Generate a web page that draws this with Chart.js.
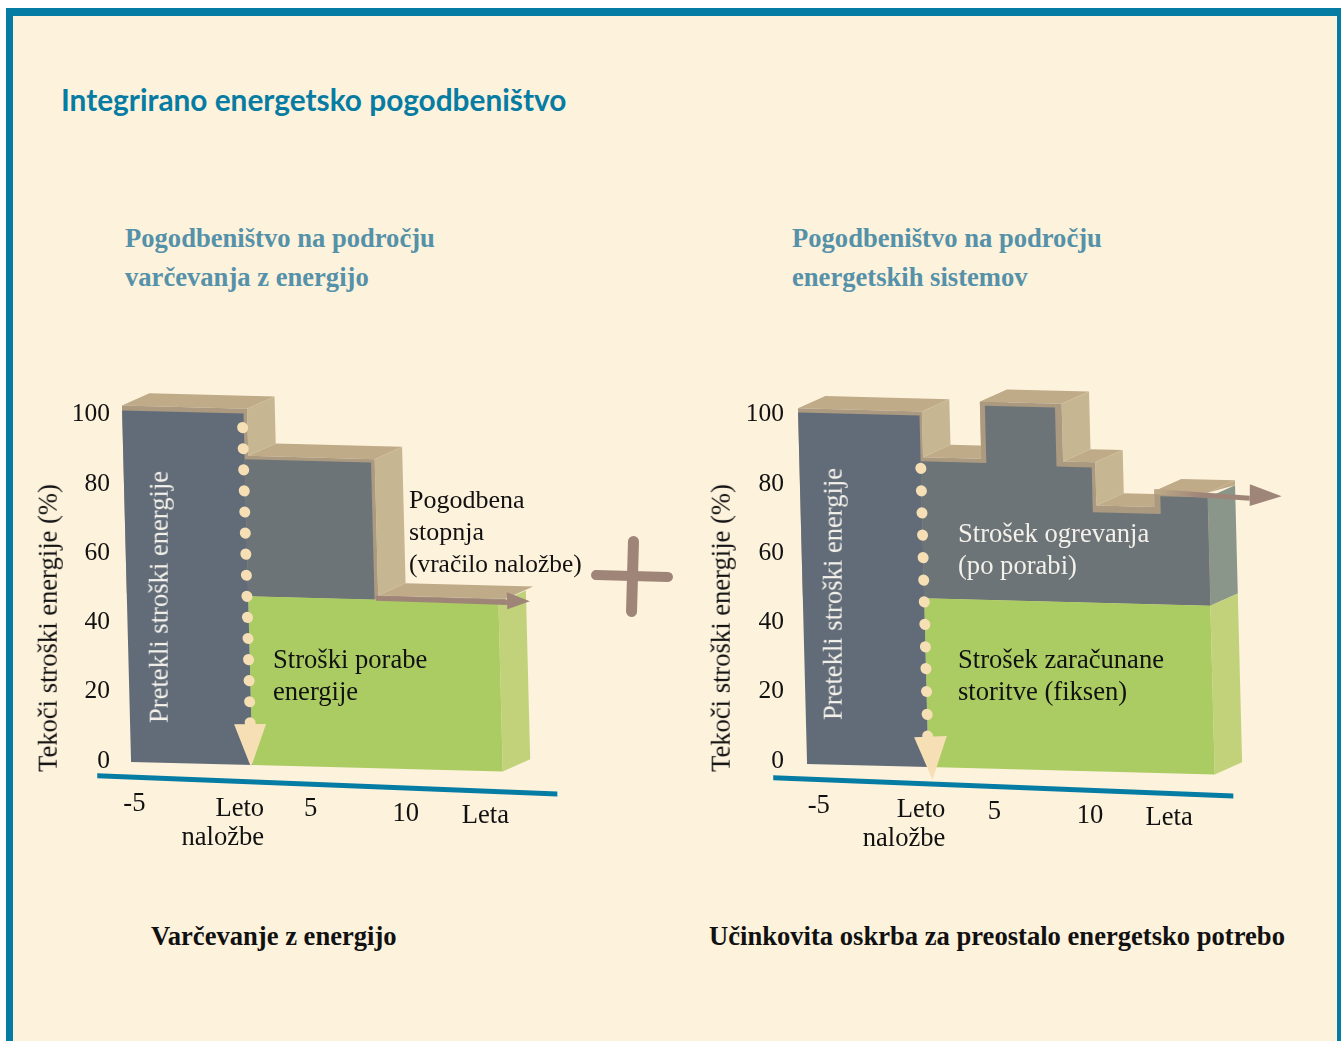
<!DOCTYPE html>
<html lang="sl">
<head>
<meta charset="utf-8">
<title>Integrirano energetsko pogodbeništvo</title>
<script src="https://cdn.jsdelivr.net/npm/chart.js@4/dist/chart.umd.js"></script>
<style>
    html, body { margin: 0; padding: 0; background: #fff; }
    body { width: 1341px; height: 1041px; position: relative; overflow: hidden; }
    .frame {
        position: absolute; left: 6px; top: 8px; right: 0; bottom: -20px;
        background: #fdf2dc; border: solid #047ca3; border-width: 8px 4px 0 7px;
    }
    canvas { position: absolute; top: 373px; }
    .txt {
        position: absolute; white-space: nowrap; transform: translateY(-50%);
        font-family: "Liberation Serif", serif; font-size: 26.6px; line-height: 1; color: #111;
    }
    .title { font-family: Lato, sans-serif; font-weight: 700; font-size: 29.8px; color: #067ca3; }
    .sub { font-weight: 700; color: #5591a8; }
    .cap { font-weight: 700; }
    .light { color: #f3f1ea; }
    .rot { transform: translate(-50%, -50%) rotate(-90deg); }
    .plus { position: absolute; background: #9e8578; border-radius: 6px; }
</style>
</head>
<body>
<div class="frame"></div>
<canvas id="panelA" width="602" height="492" style="left:20px"></canvas>
<canvas id="panelB" width="602" height="492" style="left:696px"></canvas>

<div class="txt title" style="left:61px;top:100px">Integrirano energetsko pogodbeništvo</div>
<div class="txt sub" style="left:125px;top:238px">Pogodbeništvo na področju</div>
<div class="txt sub" style="left:125px;top:277px">varčevanja z energijo</div>
<div class="txt sub" style="left:792px;top:238px">Pogodbeništvo na področju</div>
<div class="txt sub" style="left:792px;top:277px">energetskih sistemov</div>

<div class="txt rot" style="left:48px;top:628px">Tekoči stroški energije (%)</div>
<div class="txt rot" style="left:721px;top:628px">Tekoči stroški energije (%)</div>
<div class="txt rot light" style="left:159px;top:597px">Pretekli stroški energije</div>
<div class="txt rot light" style="left:833px;top:594px">Pretekli stroški energije</div>

<div class="txt" style="left:409px;top:500px;font-size:26px">Pogodbena</div>
<div class="txt" style="left:409px;top:532px;font-size:26px">stopnja</div>
<div class="txt" style="left:409px;top:564px;font-size:25.4px">(vračilo naložbe)</div>
<div class="txt" style="left:273px;top:659px">Stroški porabe</div>
<div class="txt" style="left:273px;top:691px">energije</div>
<div class="txt light" style="left:958px;top:533px">Strošek ogrevanja</div>
<div class="txt light" style="left:958px;top:565px">(po porabi)</div>
<div class="txt" style="left:958px;top:659px">Strošek zaračunane</div>
<div class="txt" style="left:958px;top:691px">storitve (fiksen)</div>

<div class="txt cap" style="left:151px;top:936px">Varčevanje z energijo</div>
<div class="txt cap" style="left:709px;top:936px">Učinkovita oskrba za preostalo energetsko potrebo</div>

<div class="plus" style="left:591px;top:571px;width:82px;height:10px;transform:rotate(1.4deg)"></div>
<div class="plus" style="left:627px;top:536px;width:11px;height:81px;transform:rotate(1.6deg)"></div>

<script>
// ============================================================================
// CHART DATA (x = years around the investment year, y = running energy cost %)
// ============================================================================

const yTicks = [0, 20, 40, 60, 80, 100];
const xTickLabels = ['-5', ['Leto', 'naložbe'], '5', '10', 'Leta'];

const axisX = [-6.18, 12.38];
const axisY = [-4.2, -6];
const depthX = 1.12;
const depthY = 3.7;

// Energy saving contract (left)
const pastXA = [-4.8, 0.1, 0.1, -4.8];
const pastYA = [100, 100, 0, 0];
const costXA = [0.1, 5.2, 5.2, 0.1];
const costYA = [87, 87, 48, 48];
const baseXA = [0.1, 10.2, 10.2, 0.1];
const baseYA = [48, 48, 0, 0];
const rimXA = [-4.8, 0.25, 0.25, 5.35, 5.35, 10.5];
const rimYA = [101.4, 101.4, 88, 88, 49.2, 49.2];
const dotXA = 0.05;
const dotYA = [96, 90, 84, 78, 72, 66, 60, 54, 48, 42, 36, 30, 24, 18, 12];
const headXA = [-0.6, 0.69, 0.04];
const headYA = [11.5, 11.8, -0.6];
const shaftXA = [5.25, 10.57];
const shaftYA = [48.4, 48.2];
const tipXA = [10.55, 11.47, 10.53];
const tipYA = [51.1, 48.7, 46.2];
const xTickAtA = [-4.23, 0.56, 2.7, 6.81, 10.44];
const xTickRowA = [-11.9, -12.4, -12, -12.6, -12.6];

// Energy supply contract (right)
const pastXB = [-4.8, 0.1, 0.1, -4.8];
const pastYB = [100, 100, 0, 0];
const costXB = [0.1, 2.75, 2.75, 5.58, 5.58, 7, 7, 9.74, 9.74, 11.65, 11.65, 0.1];
const costYB = [87, 87, 103.3, 103.3, 86.5, 86.5, 73.8, 73.8, 78.8, 78.8, 48, 48];
const baseXB = [0.1, 11.65, 11.65, 0.1];
const baseYB = [48, 48, 0, 0];
const rimXB = [-4.8, 0.2, 0.2, 2.55, 2.55, 5.85, 5.85, 7.15, 7.15, 9.5, 9.5, 11.66];
const rimYB = [101.2, 101.2, 88.2, 88.2, 104.4, 104.4, 88, 88, 75.7, 75.7, 80.2, 80.2];
const dotXB = 0.1;
const dotYB = [85, 78.6, 72.3, 66, 59.6, 53.2, 47, 40.6, 34.2, 28, 21.5, 15, 8.8];
const headXB = [-0.45, 0.87, 0.25];
const headYB = [8.4, 9, -3.6];
const shaftXB = [9.5, 13.35];
const shaftYB = [80.1, 78.9];
const tipXB = [13.37, 14.64, 13.34];
const tipYB = [82.9, 79.7, 76.7];
const xTickAtB = [-3.89, 0.77, 3.02, 7.14, 10.75];
const xTickRowB = [-11.8, -12.1, -12.1, -12.6, -12.5];

const COLORS = {
    past: '#626c78',
    cost: '#6d7478',
    base: '#abcc62',
    baseSide: '#c2d27a',
    costSide: '#8a9689',
    top: '#bfab88',
    side: '#c7b692',
    rim: '#ab9a80',
    dot: '#f6dfb5',
    arrow: '#9e8578',
    axis: '#047ca3'
};

// ============================================================================
// DATASET HELPERS
// ============================================================================

/**
 * Closed filled shape from x and y lists
 */
function shape(xs, ys, color) {
    const data = xs.map((x, i) => ({ x, y: ys[i] }));
    data.push(data[0]);
    return {
        data,
        fill: 'shape',
        backgroundColor: color,
        borderWidth: 0,
        pointRadius: 0,
        clip: false,
        tension: 0
    };
}

/**
 * Open stroked line
 */
function stroke(xs, ys, color, width) {
    return {
        data: xs.map((x, i) => ({ x, y: ys[i] })),
        fill: false,
        borderColor: color,
        borderWidth: width,
        pointRadius: 0,
        clip: false
    };
}

/**
 * Arrow shaft, fades in from the colour of the block it leaves
 */
function shaftColor(xs, fromColor) {
    return (context) => {
        const { chart } = context;
        if (!chart.chartArea) {
            return COLORS.arrow; // not laid out yet on the first pass
        }
        const gradient = chart.ctx.createLinearGradient(
            chart.scales.x.getPixelForValue(xs[0]), 0,
            chart.scales.x.getPixelForValue(xs[1]), 0
        );
        gradient.addColorStop(0, fromColor);
        gradient.addColorStop(0.5, COLORS.arrow);
        return gradient;
    };
}

/**
 * Depth faces along the outline of the stepped block
 */
function depthFaces(xs, ys) {
    const faces = [];
    for (let i = 0; i < xs.length - 1; i++) {
        const color = ys[i] === ys[i + 1] ? COLORS.top : COLORS.side;
        faces.push(shape(
            [xs[i], xs[i + 1], xs[i + 1] + depthX, xs[i] + depthX],
            [ys[i], ys[i + 1], ys[i + 1] + depthY, ys[i] + depthY],
            color
        ));
    }
    return faces;
}

/**
 * The drawing leans a little, so the marks are sheared around the year 0 point
 */
function leanPlugin(pivotX, pivotY) {
    return {
        id: 'lean',
        beforeDatasetsDraw(chart) {
            const { ctx, scales } = chart;
            ctx.save();
            ctx.translate(pivotX, pivotY);
            ctx.transform(1, 0.026, 0.0259, 1.0144, 0, 0);
            ctx.translate(-scales.x.getPixelForValue(0), -scales.y.getPixelForValue(0));
        },
        afterDatasetsDraw(chart) {
            chart.ctx.restore();
        }
    };
}

/**
 * Year labels follow the slanted axis, so each one gets its own row
 */
function yearLabelsPlugin(pivotY, tickAt, tickRow) {
    return {
        id: 'yearLabels',
        afterDraw(chart) {
            const { ctx, scales } = chart;
            ctx.save();
            ctx.font = '26.6px "Liberation Serif"';
            ctx.fillStyle = '#111';
            ctx.textAlign = 'right';
            ctx.textBaseline = 'middle';
            xTickLabels.forEach((label, i) => {
                const px = scales.x.getPixelForValue(tickAt[i]);
                const py = pivotY - 3.52 * tickRow[i] + 0.645 * tickAt[i];
                [].concat(label).forEach((line, k) => ctx.fillText(line, px, py + k * 29));
            });
            ctx.restore();
        }
    };
}

// ============================================================================
// CHART RENDERING
// ============================================================================

/**
 * Render one contract panel
 */
function renderPanel(canvasId, pivot, marks, extraFaces, labels) {
    const ctx = document.getElementById(canvasId).getContext('2d');
    const rimEnd = marks.rimX[marks.rimX.length - 1];

    const datasets = [
        ...depthFaces(marks.rimX, marks.rimY),
        ...extraFaces,
        shape([...marks.rimX, rimEnd, marks.rimX[0]], [...marks.rimY, 48, 48], COLORS.rim),
        shape(marks.costX, marks.costY, COLORS.cost),
        shape(marks.baseX, marks.baseY, COLORS.base),
        shape(marks.pastX, marks.pastY, COLORS.past),
        stroke(marks.shaftX, marks.shaftY, shaftColor(marks.shaftX, labels.shaftFrom), 5),
        shape(marks.tipX, marks.tipY, COLORS.arrow),
        {
            data: marks.dotY.map(y => ({ x: marks.dotX, y })),
            showLine: false,
            pointRadius: 5.5,
            pointBackgroundColor: COLORS.dot,
            pointBorderWidth: 0,
            clip: false
        },
        shape(marks.headX, marks.headY, COLORS.dot),
        stroke(axisX, axisY, COLORS.axis, 5)
    ];
    // first dataset is painted first, later ones lie on top
    datasets.forEach((d, i) => { d.order = datasets.length - i; });

    return new Chart(ctx, {
        type: 'line',
        data: { datasets },
        options: {
            responsive: false,
            animation: false,
            layout: { padding: 0, autoPadding: false },
            plugins: { legend: { display: false }, tooltip: { enabled: false } },
            scales: {
                x: { type: 'linear', min: -5.5, max: 15, display: false },
                y: {
                    type: 'linear',
                    min: -30,
                    max: 112,
                    grid: { display: false, drawTicks: false },
                    border: { display: false },
                    afterFit: scale => {
                        scale.width = 94;
                        scale.paddingTop = 0;
                        scale.paddingBottom = 0;
                    },
                    afterBuildTicks: scale => { scale.ticks = yTicks.map(value => ({ value })); },
                    ticks: {
                        padding: labels.tickPadding,
                        color: '#111',
                        font: { family: '"Liberation Serif"', size: 25.5 }
                    }
                }
            }
        },
        plugins: [
            leanPlugin(pivot.x, pivot.y),
            yearLabelsPlugin(pivot.y, labels.tickAt, labels.tickRow)
        ]
    });
}

renderPanel('panelA', { x: 230, y: 392 }, {
    pastX: pastXA, pastY: pastYA, costX: costXA, costY: costYA, baseX: baseXA, baseY: baseYA,
    rimX: rimXA, rimY: rimYA, dotX: dotXA, dotY: dotYA, headX: headXA, headY: headYA,
    shaftX: shaftXA, shaftY: shaftYA, tipX: tipXA, tipY: tipYA
}, [
    shape([10.2, 10.2 + depthX, 10.2 + depthX, 10.2], [48, 48 + depthY, depthY, 0], COLORS.baseSide)
], { tickAt: xTickAtA, tickRow: xTickRowA, tickPadding: 4, shaftFrom: COLORS.arrow });

renderPanel('panelB', { x: 230, y: 394 }, {
    pastX: pastXB, pastY: pastYB, costX: costXB, costY: costYB, baseX: baseXB, baseY: baseYB,
    rimX: rimXB, rimY: rimYB, dotX: dotXB, dotY: dotYB, headX: headXB, headY: headYB,
    shaftX: shaftXB, shaftY: shaftYB, tipX: tipXB, tipY: tipYB
}, [
    shape([11.65, 11.65 + depthX, 11.65 + depthX, 11.65], [78.8, 78.8 + depthY, 48 + depthY, 48], COLORS.costSide),
    shape([11.65, 11.65 + depthX, 11.65 + depthX], [80.2, 80.2 + depthY, 78.8 + depthY], COLORS.top),
    shape([11.65, 11.65 + depthX, 11.65 + depthX, 11.65], [48, 48 + depthY, depthY, 0], COLORS.baseSide)
], { tickAt: xTickAtB, tickRow: xTickRowB, tickPadding: 6, shaftFrom: COLORS.top });
</script>
</body>
</html>
